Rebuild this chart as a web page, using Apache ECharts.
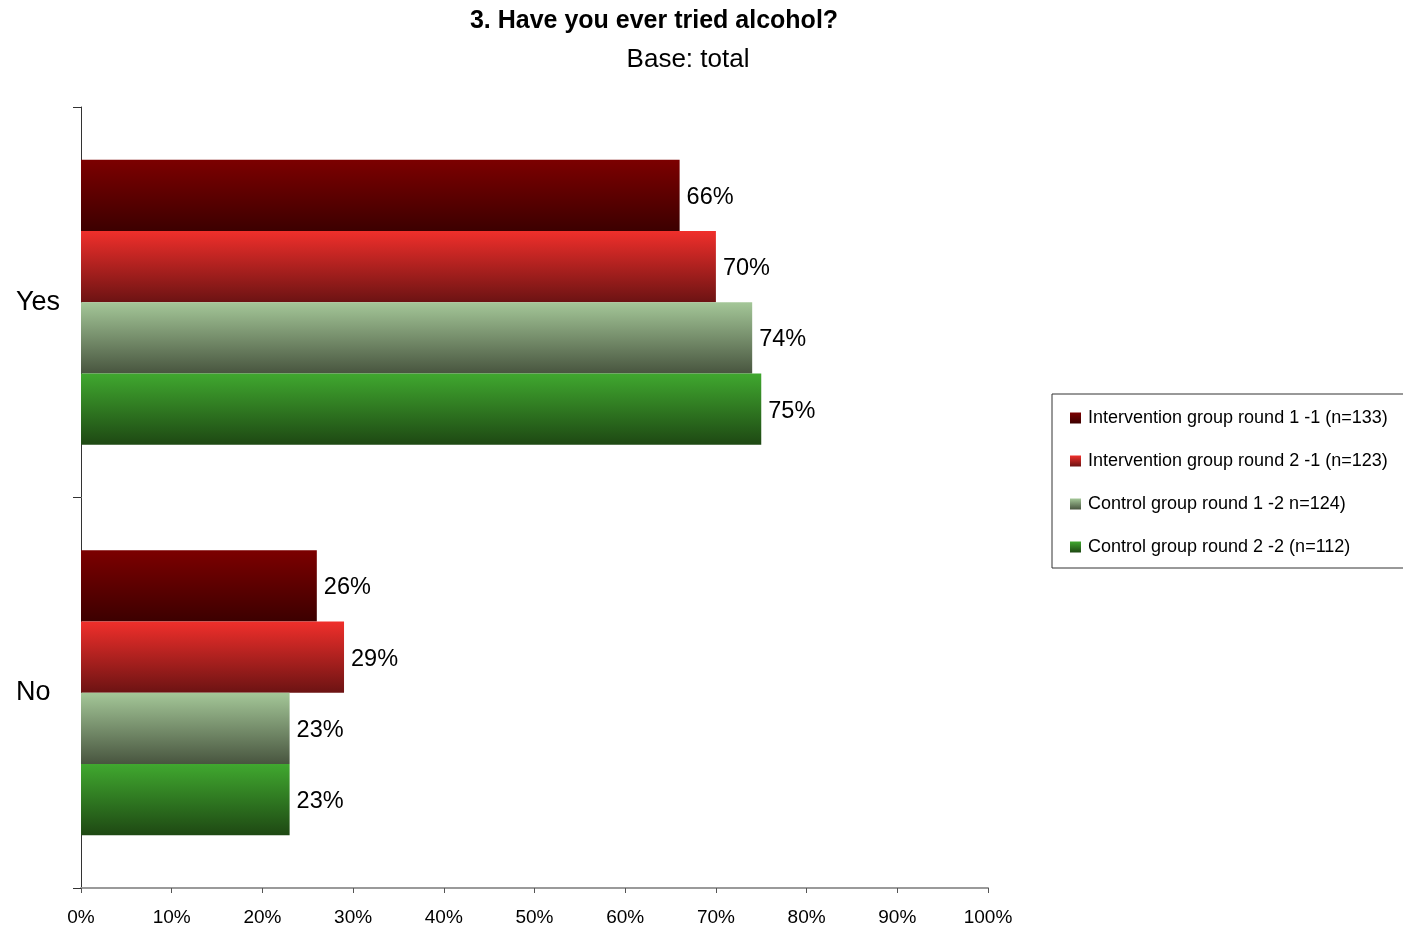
<!DOCTYPE html>
<html>
<head>
<meta charset="utf-8">
<script src="https://cdn.jsdelivr.net/npm/echarts@6/dist/echarts.min.js"></script>
<style>
  html, body { margin: 0; padding: 0; background: #fff; }
  #chart { width: 1403px; height: 928px; }
</style>
</head>
<body>
<div id="chart"></div>
<script>
// Answers and survey groups
const categories = ['Yes', 'No'];
const seriesNames = [
  'Intervention group round 1 -1 (n=133)',
  'Intervention group round 2 -1 (n=123)',
  'Control group round 1 -2 n=124)',
  'Control group round 2 -2 (n=112)'
];
// Percent of respondents per answer, one array per group
const interventionRound1 = [66, 26];
const interventionRound2 = [70, 29];
const controlRound1 = [74, 23];
const controlRound2 = [75, 23];
const xTicks = [0, 10, 20, 30, 40, 50, 60, 70, 80, 90, 100];

const FONT = '"Liberation Sans", Arial, sans-serif';

function vGrad(top, bottom) {
  return new echarts.graphic.LinearGradient(0, 0, 0, 1, [
    { offset: 0, color: top },
    { offset: 1, color: bottom }
  ]);
}
const fills = [
  vGrad('#7c0000', '#3c0000'),
  vGrad('#f02f2b', '#6c1313'),
  vGrad('#a4c798', '#48553f'),
  vGrad('#40a82f', '#1e4813')
];
const values = [interventionRound1, interventionRound2, controlRound1, controlRound2];

const chart = echarts.init(document.getElementById('chart'), null, { renderer: 'canvas' });

chart.setOption({
  animation: false,
  backgroundColor: '#ffffff',
  textStyle: { fontFamily: FONT },
  graphic: [
    {
      type: 'text', x: 654, y: 21,
      style: {
        text: '3. Have you ever tried alcohol?', fill: '#000',
        font: 'bold 25px ' + FONT, textAlign: 'center', textVerticalAlign: 'middle'
      }
    },
    {
      type: 'text', x: 688, y: 60,
      style: {
        text: 'Base: total', fill: '#000',
        font: '26px ' + FONT, textAlign: 'center', textVerticalAlign: 'middle'
      }
    }
  ],
  grid: { left: 81, right: 415, top: 107, bottom: 40, containLabel: false },
  legend: {
    orient: 'vertical',
    left: 1052, top: 394,
    width: 400,
    padding: [14, 40, 11, 18],
    borderColor: '#333',
    borderWidth: 1,
    icon: 'rect',
    itemWidth: 11, itemHeight: 11,
    itemGap: 23,
    textStyle: { fontSize: 18, color: '#000', fontFamily: FONT, lineHeight: 20, padding: [0, 0, 0, 2] },
    data: seriesNames
  },
  xAxis: {
    type: 'value',
    min: 0, max: 100, interval: 10,
    axisLine: { show: true, lineStyle: { color: '#9a9a9a', width: 2 } },
    axisTick: { show: true, length: 5, lineStyle: { color: '#555' } },
    splitLine: { show: false },
    axisLabel: {
      fontSize: 19, color: '#000', margin: 20,
      formatter: v => xTicks.includes(v) ? v + '%' : ''
    }
  },
  yAxis: {
    type: 'category',
    inverse: true,
    data: categories,
    axisLine: { show: true, lineStyle: { color: '#333', width: 1 } },
    axisTick: { show: true, length: 8, lineStyle: { color: '#333' } },
    axisLabel: { fontSize: 27, color: '#000', align: 'left', margin: 65 }
  },
  series: seriesNames.map((name, i) => ({
    name,
    type: 'bar',
    data: values[i],
    barGap: '0%',
    barCategoryGap: '27%',
    itemStyle: { color: fills[i] },
    label: {
      show: true, position: 'right', distance: 7, offset: [0, 2],
      fontSize: 23.5, color: '#000', fontFamily: FONT,
      formatter: p => p.value + '%'
    }
  }))
});
</script>
</body>
</html>
